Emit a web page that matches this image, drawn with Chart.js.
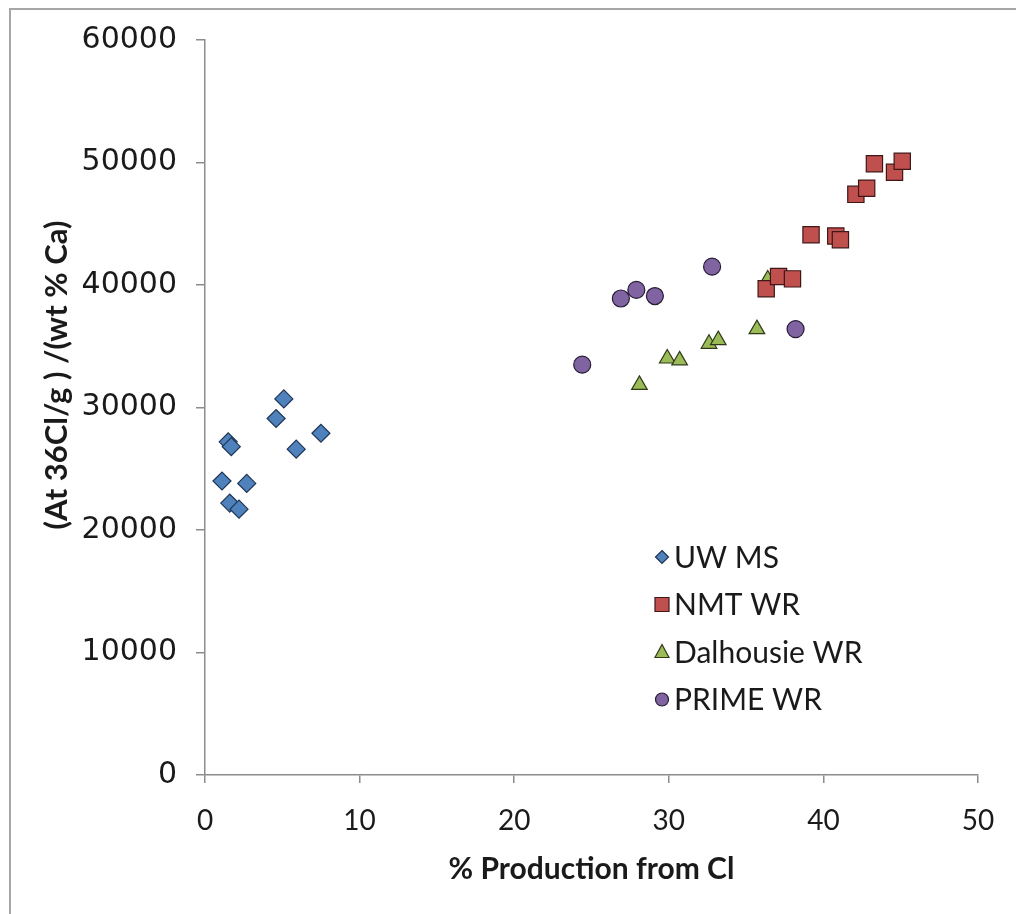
<!DOCTYPE html>
<html>
<head>
<meta charset="utf-8">
<script src="https://cdn.jsdelivr.net/npm/chart.js@4/dist/chart.umd.min.js"></script>
<style>
  body { margin: 0; background: #fff; }
  #wrap { position: relative; width: 1016px; height: 914px; overflow: hidden; }
  #frame { position: absolute; left: 9px; top: 8px; width: 1100px; height: 1000px;
           border-left: 2px solid #a6a6a6; border-top: 2px solid #a6a6a6; }
  canvas { position: absolute; left: 0; top: 0; }
</style>
</head>
<body>
<div id="wrap">
  <div id="frame"></div>
  <canvas id="canvas" width="1016" height="914"></canvas>
</div>
<script>
// values
const uwX = [1.1, 1.5, 1.7, 1.6, 2.2, 2.7, 4.6, 5.1, 5.9, 7.5]
const uwY = [24000, 27200, 26800, 22200, 21700, 23800, 29100, 30700, 26600, 27900]

const nmtX = [36.3, 37.1, 38.0, 39.2, 40.8, 41.1, 42.1, 42.8, 43.3, 44.6, 45.1]
const nmtY = [39700, 40700, 40500, 44100, 44000, 43700, 47400, 47900, 49900, 49200, 50100]

const dalX = [28.1, 29.9, 30.7, 32.6, 33.2, 35.7, 36.4]
const dalY = [31850, 34000, 33850, 35200, 35500, 36400, 40450]

const primeX = [24.4, 26.9, 27.9, 29.1, 32.8, 38.2]
const primeY = [33500, 38900, 39600, 39100, 41500, 36400]

const seriesNames = ['UW MS', 'NMT WR', 'Dalhousie WR', 'PRIME WR']
const xTitle = '% Production from Cl'
const yTitle = '(At 36Cl/g ) /(wt % Ca)'

const toPoints = (xs, ys) => xs.map((x, i) => ({x: x, y: ys[i]}))

const labelFont = "Lato, 'Open Sans', sans-serif"

// draws the legend box inside the plot and the y title
const extrasPlugin = {
    id: 'extras',
    afterDraw(chart, args, opts) {
        const ctx = chart.ctx
        ctx.save()
        // y axis title
        ctx.translate(opts.yTitleX, opts.yTitleY)
        ctx.rotate(-Math.PI / 2)
        ctx.font = 'bold 31px ' + labelFont
        ctx.fillStyle = '#1a1a1a'
        ctx.textAlign = 'center'
        ctx.textBaseline = 'middle'
        ctx.fillText(yTitle, 0, 0)
        ctx.restore()

        ctx.save()
        ctx.font = '30px ' + labelFont
        ctx.textBaseline = 'middle'
        ctx.textAlign = 'left'
        chart.data.datasets.forEach((ds, i) => {
            const cx = opts.left
            const cy = opts.top + i * opts.rowHeight
            ctx.fillStyle = ds.backgroundColor
            ctx.strokeStyle = ds.borderColor
            ctx.lineWidth = 1.2
            ctx.beginPath()
            if (ds.pointStyle === 'rectRot') {
                ctx.moveTo(cx, cy - 6.5); ctx.lineTo(cx + 6.5, cy); ctx.lineTo(cx, cy + 6.5); ctx.lineTo(cx - 6.5, cy)
                ctx.closePath()
            } else if (ds.pointStyle === 'rect') {
                ctx.rect(cx - 7, cy - 7, 14, 14)
            } else if (ds.pointStyle === 'triangle') {
                ctx.moveTo(cx, cy - 7.5); ctx.lineTo(cx + 7, cy + 5.5); ctx.lineTo(cx - 7, cy + 5.5)
                ctx.closePath()
            } else {
                ctx.arc(cx, cy, 6.5, 0, Math.PI * 2)
            }
            ctx.fill()
            ctx.stroke()
            ctx.fillStyle = '#1a1a1a'
            ctx.fillText(ds.label, cx + opts.textGap, cy + 1)
        })
        ctx.restore()
    }
}

const ctx = document.getElementById('canvas')
new Chart(ctx, {
    type: 'scatter',
    data: {
        datasets: [
            {
                label: seriesNames[0],
                data: toPoints(uwX, uwY),
                pointStyle: 'rectRot',
                pointRadius: 9,
                backgroundColor: '#4F81BD',
                borderColor: '#1f3553',
                borderWidth: 1.2
            },
            {
                label: seriesNames[1],
                data: toPoints(nmtX, nmtY),
                pointStyle: 'rect',
                pointRadius: 11.5,
                backgroundColor: '#C0504D',
                borderColor: '#3f1716',
                borderWidth: 1.2
            },
            {
                label: seriesNames[2],
                data: toPoints(dalX, dalY),
                pointStyle: 'triangle',
                pointRadius: 9,
                backgroundColor: '#9BBB59',
                borderColor: '#2f3b17',
                borderWidth: 1.2
            },
            {
                label: seriesNames[3],
                data: toPoints(primeX, primeY),
                pointStyle: 'circle',
                pointRadius: 8.5,
                backgroundColor: '#8064A2',
                borderColor: '#261b33',
                borderWidth: 1.2
            }
        ]
    },
    options: {
        responsive: false,
        animation: false,
        devicePixelRatio: 1,
        layout: { padding: { left: 0, right: 38, top: 40, bottom: 27 } },
        plugins: {
            legend: { display: false },
            tooltip: { enabled: false },
            extras: { left: 662, top: 557, rowHeight: 47.5, textGap: 12, yTitleX: 57, yTitleY: 375 }
        },
        scales: {
            x: {
                type: 'linear',
                min: 0,
                max: 50,
                afterFit: (scale) => { scale.height = 112 },
                ticks: {
                    stepSize: 10,
                    padding: 21,
                    color: '#1a1a1a',
                    font: { family: labelFont, size: 28 }
                },
                grid: { drawOnChartArea: false, tickLength: 8, color: '#8c8c8c', lineWidth: 1.5 },
                border: { color: '#8c8c8c', width: 1.5 },
                title: {
                    display: true,
                    text: xTitle,
                    color: '#1a1a1a',
                    padding: 0,
                    font: { family: labelFont, size: 30, weight: 'bold' }
                }
            },
            y: {
                type: 'linear',
                min: 0,
                max: 60000,
                afterFit: (scale) => { scale.width = 205 },
                ticks: {
                    stepSize: 10000,
                    padding: 19,
                    color: '#1a1a1a',
                    font: { family: "'DejaVu Sans', Verdana, sans-serif", size: 30 },
                    callback: (v) => String(v)
                },
                grid: { drawOnChartArea: false, tickLength: 9, color: '#8c8c8c', lineWidth: 1.5 },
                border: { color: '#8c8c8c', width: 1.5 }
            }
        }
    },
    plugins: [extrasPlugin]
})
</script>
</body>
</html>
